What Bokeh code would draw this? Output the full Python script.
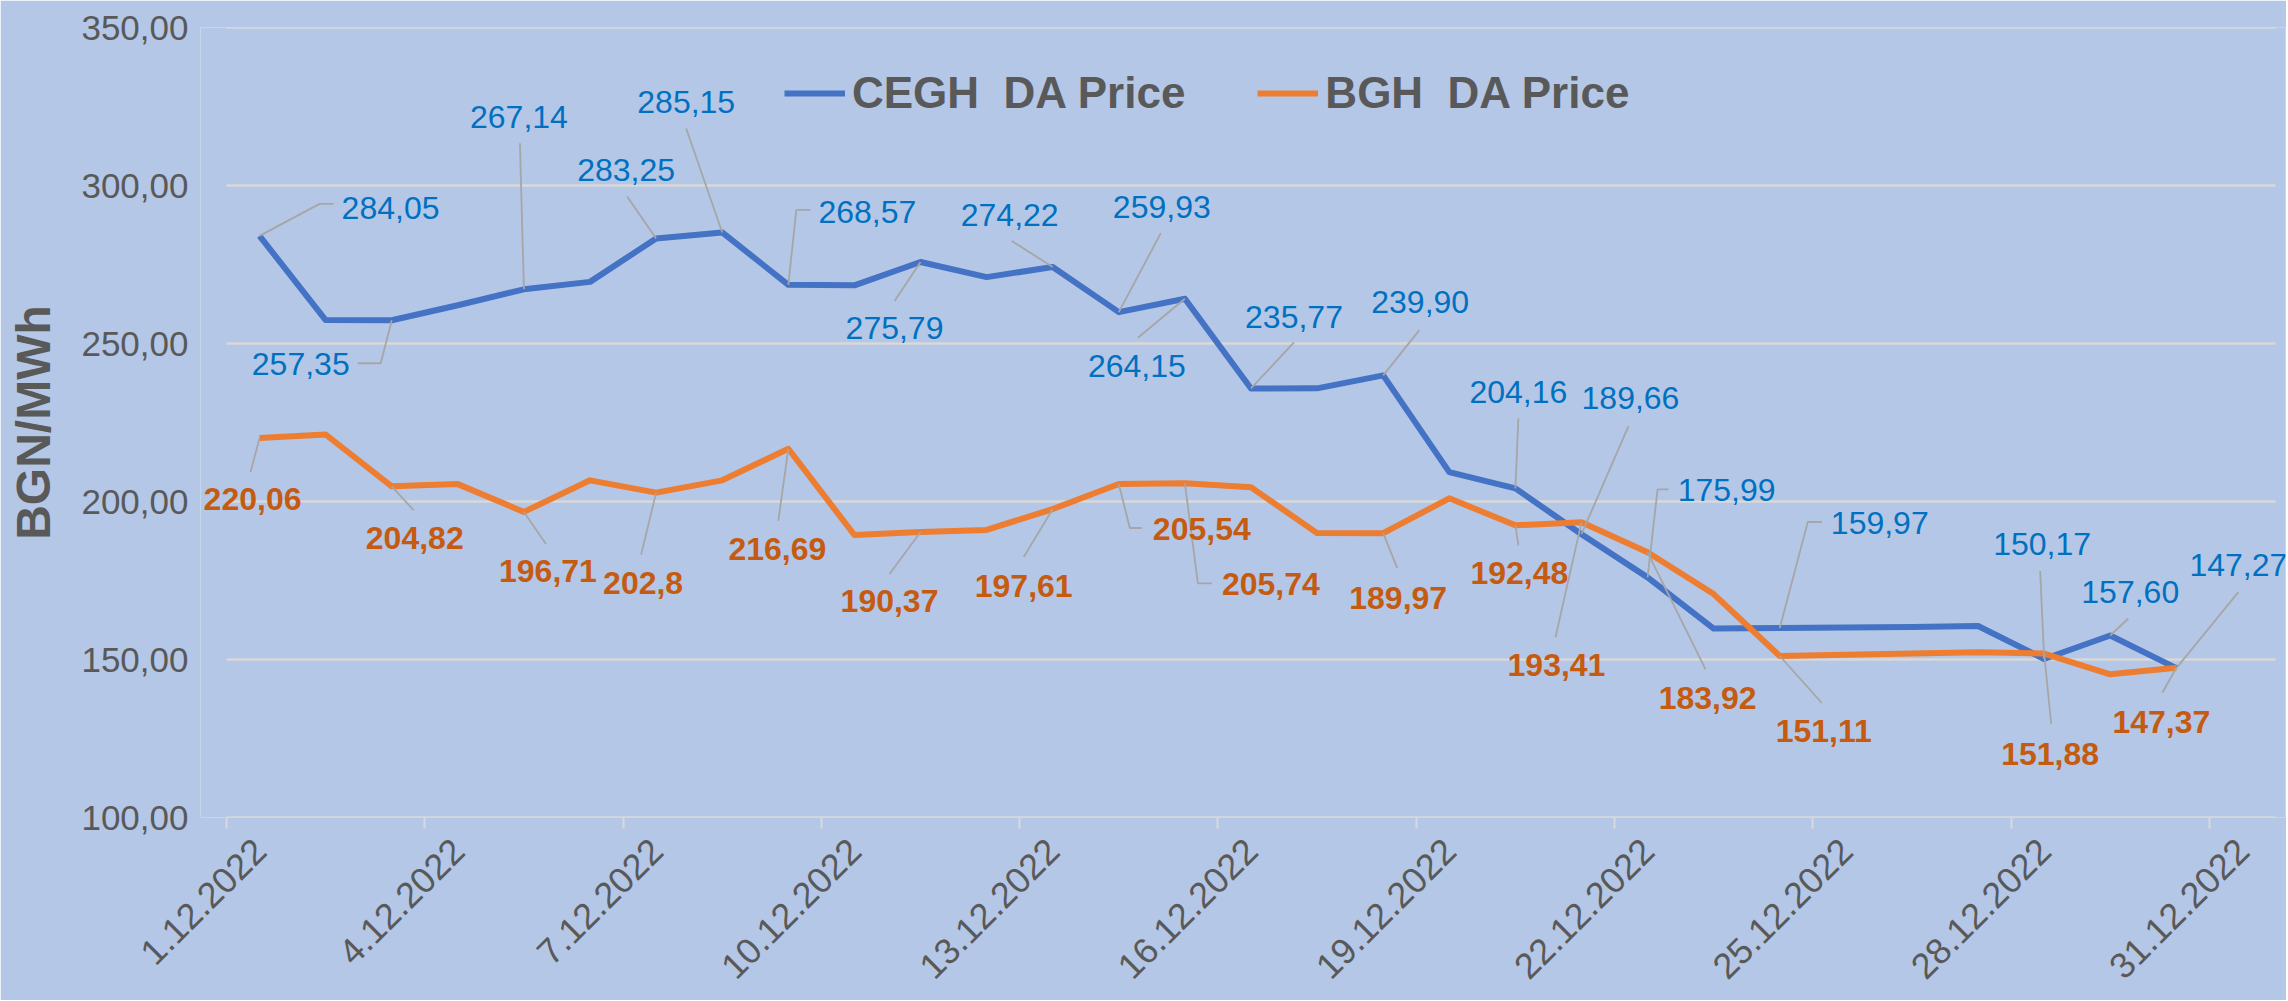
import math
from bokeh.plotting import figure
from bokeh.models import Range1d, FixedTicker, Legend, LegendItem, Label
from bokeh.embed import file_html
from bokeh.resources import INLINE

# ---------------- data ----------------
dates = ["1.12.2022", "2.12.2022", "3.12.2022", "4.12.2022", "5.12.2022", "6.12.2022",
         "7.12.2022", "8.12.2022", "9.12.2022", "10.12.2022", "11.12.2022", "12.12.2022",
         "13.12.2022", "14.12.2022", "15.12.2022", "16.12.2022", "17.12.2022", "18.12.2022",
         "19.12.2022", "20.12.2022", "21.12.2022", "22.12.2022", "23.12.2022", "24.12.2022",
         "25.12.2022", "26.12.2022", "27.12.2022", "28.12.2022", "29.12.2022", "30.12.2022"]

cegh = [284.05, 257.40, 257.35, 262.10, 267.14, 269.50, 283.25, 285.15, 268.57, 268.40,
        275.79, 271.00, 274.22, 259.93, 264.15, 235.77, 235.80, 239.90, 209.30, 204.16,
        189.66, 175.99, 159.80, 159.97, 160.10, 160.30, 160.60, 150.17, 157.60, 147.27]

bgh = [220.06, 221.20, 204.82, 205.50, 196.71, 206.70, 202.8, 206.70, 216.69, 189.40,
       190.37, 191.00, 197.61, 205.54, 205.74, 204.50, 190.00, 189.97, 201.00, 192.48,
       193.41, 183.92, 170.70, 151.11, 151.50, 151.90, 152.30, 151.88, 145.30, 147.37]

tick_days = [0, 3, 6, 9, 12, 15, 18, 21, 24, 27, 30]
tick_labels = ["1.12.2022", "4.12.2022", "7.12.2022", "10.12.2022", "13.12.2022",
               "16.12.2022", "19.12.2022", "22.12.2022", "25.12.2022", "28.12.2022",
               "31.12.2022"]
y_ticks = [100, 150, 200, 250, 300, 350]
y_tick_labels = ["100,00", "150,00", "200,00", "250,00", "300,00", "350,00"]

series_names = ["CEGH  DA Price", "BGH  DA Price"]

# ---------------- layout / style ----------------
BG = "#B4C7E7"
GRID = "#D9D9D9"
TXT = "#595959"
BLUE = "#4472C4"
ORANGE = "#ED7D31"
BLUE_LAB = "#0070C0"
ORANGE_LAB = "#C55A11"
LEADER = "#A6A6A6"
FONT = "Liberation Sans"

X_MIN, X_MAX = 0, 31          # visible axis extent (days)
Y_MIN, Y_MAX = 100, 350
AXIS_W, FRAME_H = 2049, 790   # pixel length of the drawn axis / plot height
PAD_L, PAD_R = 26, 10         # extra frame room so edge labels are not clipped
SX = AXIS_W / (X_MAX - X_MIN)
SY = FRAME_H / (Y_MAX - Y_MIN)
FRAME_W = AXIS_W + PAD_L + PAD_R

# label layout: (point index, label dx, label dy, leader path offsets) in screen px
blue_layout = [
    (0, 131, -28, [(60, -32), (74, -32)]),
    (2, -91, 44, [(-11, 43), (-34, 43)]),
    (4, -5, -172, [(-4, -146)]),
    (6, -30, -68, [(-29, -42)]),
    (7, -36, -130, [(-36, -104)]),
    (8, 79, -73, [(8, -75), (22, -75)]),
    (10, -26, 66, [(-26, 39)]),
    (12, -43, -52, [(-41, -26)]),
    (13, 43, -105, [(42, -79)]),
    (14, -48, 67, [(-47, 39)]),
    (15, 43, -71, [(43, -46)]),
    (17, 37, -73, [(36, -45)]),
    (19, 3, -96, [(3, -70)]),
    (20, 49, -136, [(47, -108)]),
    (21, 79, -87, [(10, -88), (21, -88)]),
    (23, 100, -105, [(28, -106), (42, -106)]),
    (27, -2, -115, [(-4, -88)]),
    (28, 20, -43, [(18, -17)]),
    (29, 62, -103, [(62, -76)]),
]
orange_layout = [
    (0, -7, 61, [(-9, 34)]),
    (2, 23, 52, [(22, 24)]),
    (4, 24, 59, [(22, 32)]),
    (6, -13, 90, [(-15, 62)]),
    (8, -11, 100, [(-10, 72)]),
    (10, -31, 69, [(-31, 42)]),
    (12, -29, 77, [(-29, 48)]),
    (13, 83, 45, [(11, 44), (23, 44)]),
    (14, 86, 101, [(13, 100), (27, 100)]),
    (17, 15, 65, [(14, 35)]),
    (19, 4, 48, [(3, 20)]),
    (20, -25, 143, [(-26, 115)]),
    (21, 60, 146, [(58, 117)]),
    (23, 44, 75, [(42, 47)]),
    (27, 6, 100, [(7, 70)]),
    (29, -15, 54, [(-14, 25)]),
]

xs = [i + 0.5 for i in range(len(dates))]

p = figure(frame_width=FRAME_W, frame_height=FRAME_H,
           x_range=Range1d(X_MIN - PAD_L / SX, X_MAX + PAD_R / SX),
           y_range=Range1d(Y_MIN, Y_MAX),
           output_backend="svg", toolbar_location=None,
           min_border_left=226 - PAD_L, min_border_right=1, min_border_top=27,
           min_border_bottom=183)
p.background_fill_color = BG
p.border_fill_color = BG
p.outline_line_color = None

# axes
xa = p.xaxis[0]
xa.ticker = FixedTicker(ticks=[d + 0.5 for d in tick_days], minor_ticks=tick_days)
xa.major_label_overrides = {d + 0.5: lab for d, lab in zip(tick_days, tick_labels)}
xa.major_label_orientation = math.pi / 4
xa.major_label_text_font = FONT
xa.major_label_text_font_size = "36px"
xa.major_label_text_color = TXT
xa.major_tick_line_color = None
xa.major_tick_out = 0
xa.major_tick_in = 0
xa.minor_tick_line_color = GRID
xa.minor_tick_line_width = 2
xa.minor_tick_out = 11
xa.minor_tick_in = 0
xa.axis_line_color = None
xa.major_label_standoff = 16

ya = p.yaxis[0]
ya.ticker = FixedTicker(ticks=y_ticks)
ya.major_label_overrides = {t: lab for t, lab in zip(y_ticks, y_tick_labels)}
ya.major_label_text_font = FONT
ya.major_label_text_font_size = "35px"
ya.major_label_text_color = TXT
ya.axis_line_color = None
ya.major_tick_line_color = None
ya.minor_tick_line_color = None
ya.major_tick_out = 0
ya.major_tick_in = 0
ya.major_label_standoff = 38 - PAD_L
ya.axis_label = "BGN/MWh"
ya.axis_label_text_font = FONT
ya.axis_label_text_font_size = "48px"
ya.axis_label_text_font_style = "bold"
ya.axis_label_text_color = TXT
ya.axis_label_standoff = 18

p.xgrid.visible = False
p.ygrid.visible = False

# horizontal gridlines + category axis baseline, spanning only the axis extent
p.multi_line(xs=[[X_MIN, X_MAX] for t in y_ticks], ys=[[t, t] for t in y_ticks],
             line_color=GRID, line_width=2.7)

# series lines
r_blue = p.line(xs, cegh, line_color=BLUE, line_width=6, line_join="round")
r_orange = p.line(xs, bgh, line_color=ORANGE, line_width=6, line_join="round")


def fmt_blue(v):
    return f"{v:.2f}".replace(".", ",")


def fmt_orange(v):
    return ("%g" % v).replace(".", ",")


def add_labels(vals, layout, color, style, fmt):
    mxs, mys = [], []
    for i, dx, dy, path in layout:
        x0, y0 = xs[i], vals[i]
        px = [x0] + [x0 + ox / SX for ox, oy in path]
        py = [y0] + [y0 - oy / SY for ox, oy in path]
        mxs.append(px)
        mys.append(py)
    p.multi_line(mxs, mys, line_color=LEADER, line_width=1.8)
    for i, dx, dy, path in layout:
        p.add_layout(Label(x=xs[i], y=vals[i], text=fmt(vals[i]),
                           x_offset=dx, y_offset=-dy,
                           text_align="center", text_baseline="middle",
                           text_font=FONT, text_font_size="32px", text_font_style=style,
                           text_color=color))


add_labels(cegh, blue_layout, BLUE_LAB, "normal", fmt_blue)
add_labels(bgh, orange_layout, ORANGE_LAB, "bold", fmt_orange)

legend = Legend(items=[LegendItem(label=series_names[0], renderers=[r_blue]),
                       LegendItem(label=series_names[1], renderers=[r_orange])],
                location=(558 + PAD_L, 699), orientation="horizontal")
legend.label_text_font = FONT
legend.label_text_font_size = "44px"
legend.label_text_font_style = "bold"
legend.label_text_color = TXT
legend.glyph_width = 61
legend.label_standoff = 7
legend.spacing = 72
legend.padding = 0
legend.margin = 0
legend.border_line_color = None
legend.background_fill_alpha = 0
p.add_layout(legend)

open("out.html", "w").write(file_html(p, INLINE))
